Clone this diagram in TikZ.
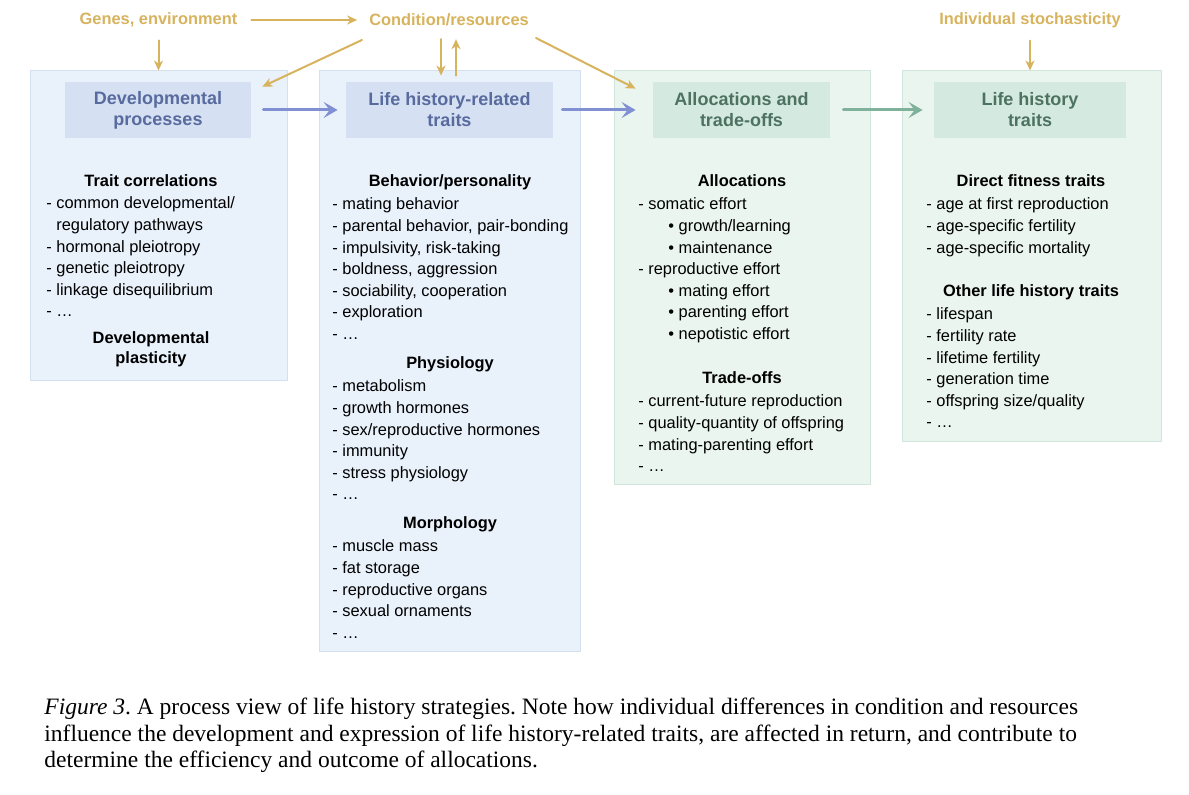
\documentclass[tikz,border=0pt]{standalone}
\usepackage{fontspec}
\setmainfont{Liberation Sans}
\newfontfamily\capfont{Liberation Serif}
\usetikzlibrary{arrows.meta,fit}
\frenchspacing

\definecolor{goldc}{RGB}{215,179,94}
\definecolor{bluefill}{RGB}{233,241,251}
\definecolor{blueline}{RGB}{210,224,240}
\definecolor{bluehd}{RGB}{213,225,243}
\definecolor{bluetx}{RGB}{88,106,158}
\definecolor{bluear}{RGB}{128,144,210}
\definecolor{greenfill}{RGB}{234,245,240}
\definecolor{greenline}{RGB}{208,230,219}
\definecolor{greenhd}{RGB}{212,233,223}
\definecolor{greentx}{RGB}{78,114,97}
\definecolor{greenar}{RGB}{128,178,155}

\begin{document}
\begin{tikzpicture}[x=0.5pt,y=-0.5pt,line cap=round,line join=round,
  bluepanel/.style={draw=blueline,fill=bluefill,line width=0.5pt,inner sep=0pt},
  greenpanel/.style={draw=greenline,fill=greenfill,line width=0.5pt,inner sep=0pt},
  bluehead/.style={fill=bluehd,text=bluetx,minimum width=#1,minimum height=28pt,
    align=center,font=\bfseries\fontsize{9}{10.5}\selectfont},
  greenhead/.style={fill=greenhd,text=greentx,minimum width=#1,minimum height=28pt,
    align=center,font=\bfseries\fontsize{9}{10.5}\selectfont},
  toplabel/.style={text=goldc,font=\bfseries\fontsize{8.2}{10}\selectfont},
  sect/.style={anchor=base,align=center,inner sep=0pt,font=\bfseries\fontsize{8.2}{9.8}\selectfont},
  items/.style={anchor=base west,align=left,inner sep=0pt,font=\fontsize{8.2}{10.8}\selectfont},
  goldarr/.style={draw=goldc,line width=1pt,-{Stealth[length=5pt,width=4.5pt,inset=1.5pt]}},
  bluearr/.style={draw=bluear,line width=1.5pt,-{Stealth[length=7pt,width=8pt,inset=3pt]}},
  greenarr/.style={draw=greenar,line width=1.5pt,-{Stealth[length=7pt,width=8pt,inset=3pt]}}]
  \useasboundingbox (0,0) rectangle (1189,795);

  % panels
  \node[bluepanel,fit={(30,71) (287,381)}] (box1) {};
  \node[bluepanel,fit={(319,71) (580,652)}] (box2) {};
  \node[greenpanel,fit={(614,71) (870,485)}] (box3) {};
  \node[greenpanel,fit={(902,71) (1161,442)}] (box4) {};

  % headers
  \node[bluehead=93pt] (h1) at (158,110) {Developmental\\processes};
  \node[bluehead=103.5pt] (h2) at (449.5,110) {Life history-related\\traits};
  \node[greenhead=88.5pt] (h3) at (741.5,110) {Allocations and\\trade-offs};
  \node[greenhead=96pt] (h4) at (1030,110) {Life history\\traits};

  % top labels
  \node[toplabel] (genes) at (158.5,20) {Genes, environment};
  \node[toplabel] (cond) at (449,20) {Condition/resources};
  \node[toplabel] (indiv) at (1030,20) {Individual stochasticity};

  % panel 1 (base = last line)
  \node[sect] (s11) at (151,187) {Trait correlations};
  \node[items] (l11) at (46,317) {- common developmental/\\\phantom{- }regulatory pathways\\- hormonal pleiotropy\\- genetic pleiotropy\\- linkage disequilibrium\\- …};
  \node[sect] (s12) at (151,363.6) {Developmental\\plasticity};

  % panel 2
  \node[sect] (s21) at (450,187) {Behavior/personality};
  \node[items] (l21) at (332,339.6) {- mating behavior\\- parental behavior, pair-bonding\\- impulsivity, risk-taking\\- boldness, aggression\\- sociability, cooperation\\- exploration\\- …};
  \node[sect] (s22) at (450,369) {Physiology};
  \node[items] (l22) at (332,500) {- metabolism\\- growth hormones\\- sex/reproductive hormones\\- immunity\\- stress physiology\\- …};
  \node[sect] (s23) at (450,529) {Morphology};
  \node[items] (l23) at (332,638.4) {- muscle mass\\- fat storage\\- reproductive organs\\- sexual ornaments\\- …};

  % panel 3
  \node[sect] (s31) at (742,187) {Allocations};
  \node[items] (l31) at (638,339.6) {- somatic effort\\\hspace*{15pt}• growth/learning\\\hspace*{15pt}• maintenance\\- reproductive effort\\\hspace*{15pt}• mating effort\\\hspace*{15pt}• parenting effort\\\hspace*{15pt}• nepotistic effort};
  \node[sect] (s32) at (742,384) {Trade-offs};
  \node[items] (l32) at (638,471.8) {- current-future reproduction\\- quality-quantity of offspring\\- mating-parenting effort\\- …};

  % panel 4
  \node[sect] (s41) at (1031,187) {Direct fitness traits};
  \node[items] (l41) at (926,253.2) {- age at first reproduction\\- age-specific fertility\\- age-specific mortality};
  \node[sect] (s42) at (1031,297) {Other life history traits};
  \node[items] (l42) at (926,428) {- lifespan\\- fertility rate\\- lifetime fertility\\- generation time\\- offspring size/quality\\- …};

  % caption
  \node[anchor=base west,align=left,inner sep=0pt,font=\capfont\fontsize{11.75}{13.25}\selectfont] (cap) at (44,768)
    {\textit{Figure 3}. A process view of life history strategies. Note how individual differences in condition and resources\\
     influence the development and expression of life history-related traits, are affected in return, and contribute to\\
     determine the efficiency and outcome of allocations.};

  % gold arrows
  \coordinate (cd) at ([shift={(-8,0)}]cond.south);
  \coordinate (cu) at ([shift={(7,0)}]cond.south);
  \draw[goldarr,shorten <=3.5pt,shorten >=2.5pt] (genes) -- (cond);
  \draw[goldarr,shorten <=3pt] (genes.south) -- (genes.south |- box1.north);
  \draw[goldarr,shorten <=3pt,shorten >=3pt] (cd) -- (cd |- h2.north);
  \draw[goldarr,shorten <=3pt,shorten >=3pt] (cu |- h2.north) -- (cu);
  \draw[goldarr] ([shift={(-87,20)}]cond.center) -- ([shift={(11,5)}]h1.north east);
  \draw[goldarr] ([shift={(87,18)}]cond.center) -- ([shift={(-17,7)}]h3.north west);
  \draw[goldarr,shorten <=3pt] (indiv.south) -- (indiv.south |- box4.north);

  % flow arrows
  \draw[bluearr,shorten <=6pt,shorten >=4pt] (h1) -- (h2);
  \draw[bluearr,shorten <=4.5pt,shorten >=8.5pt] (h2) -- (h3);
  \draw[greenarr,shorten <=6.5pt,shorten >=5.5pt] (h3) -- (h4);
\end{tikzpicture}
\end{document}
